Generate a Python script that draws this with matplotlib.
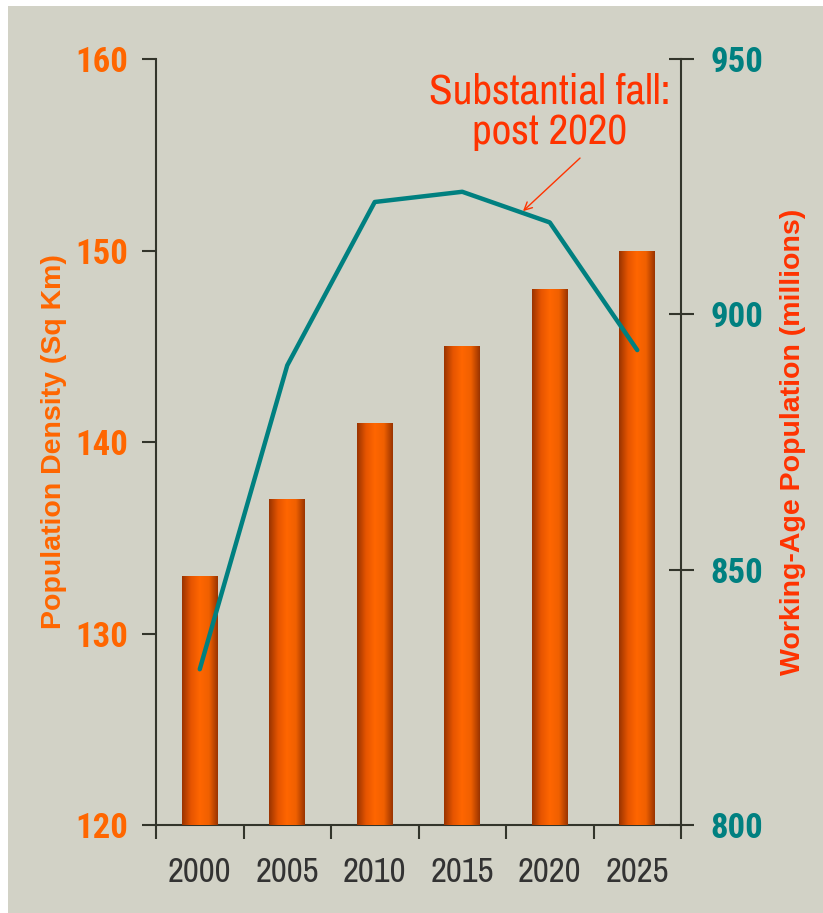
import numpy as np
import matplotlib
matplotlib.use("Agg")
from matplotlib import pyplot as plt
from matplotlib.colors import LinearSegmentedColormap

years = ['2000', '2005', '2010', '2015', '2020', '2025']
density = [133, 137, 141, 145, 148, 150]                 # people per sq km (bars)
working_age = [830.5, 890, 922, 924, 918, 893]            # millions (line)

plain = ['Archivo Narrow', 'Liberation Sans', 'DejaVu Sans']
ticks_bold = ['Roboto Condensed', 'Liberation Sans', 'DejaVu Sans']
titles = ['Liberation Sans', 'DejaVu Sans']
plt.rcParams['font.family'] = plain

bg = '#d2d2c6'
orange = '#ff6600'
red = '#ff3300'
teal = '#008080'
dark = '#33352b'

fig = plt.figure(figsize=(8.23, 9.13), dpi=100, facecolor='white')
# gray panel, white strip left and top
fig.patches.append(plt.Rectangle((8 / 823, 0), 1, 1 - 6 / 913, transform=fig.transFigure,
                                 facecolor=bg, edgecolor='none', zorder=-5))

ax = fig.add_axes([156 / 823, 1 - 825 / 913, 525 / 823, 766 / 913])
ax.set_facecolor('none')
x = np.arange(len(years))
bars = ax.bar(x, density, width=0.41, color=orange, edgecolor='none', zorder=2)
ax.set_xlim(-0.5, len(years) - 0.5)
ax.set_ylim(120, 160)

# horizontal shading on each bar
cmap = LinearSegmentedColormap.from_list('barshade', ['#993300', '#e65500', '#ff6600', '#f06000', '#993300'])
grad = np.linspace(0, 1, 256).reshape(1, -1)
for b in bars:
    im = ax.imshow(grad, cmap=cmap, aspect='auto', zorder=3,
                   extent=[b.get_x(), b.get_x() + b.get_width(), 120, b.get_height()])
    im.set_clip_path(b)

for s in ['top', 'right']:
    ax.spines[s].set_visible(False)
for s in ['left', 'bottom']:
    ax.spines[s].set_color(dark)
    ax.spines[s].set_linewidth(1.5)

ax.set_yticks([120, 130, 140, 150, 160])
ax.tick_params(axis='y', colors=dark, length=10, width=1.5, labelsize=25, labelcolor=orange, pad=10)
for t in ax.get_yticklabels():
    t.set_family(ticks_bold)
    t.set_fontweight('bold')
ax.set_xticks(np.arange(-0.5, len(years), 1.0))
ax.set_xticklabels([])
ax.set_xticks(x, minor=True)
ax.set_xticklabels(years, minor=True)
ax.tick_params(axis='x', which='major', colors=dark, length=10, width=1.5)
ax.tick_params(axis='x', which='minor', length=0, labelsize=25, labelcolor='#333333', pad=22)
ax.set_ylabel('Population Density (Sq Km)', color=orange, fontsize=20.5, fontweight='bold', family=titles)
ax.yaxis.set_label_coords(-0.1695, 0.5)

ax2 = ax.twinx()
ax2.plot(x, working_age, color=teal, linewidth=3.2, zorder=4, solid_capstyle='round')
ax2.set_ylim(800, 950)
ax2.set_yticks([800, 850, 900, 950])
for s in ['top', 'left', 'bottom']:
    ax2.spines[s].set_visible(False)
ax2.spines['right'].set_color(dark)
ax2.spines['right'].set_linewidth(1.5)
ax2.tick_params(axis='y', direction='inout', colors=dark, length=18, width=1.5,
                labelsize=25, labelcolor=teal, pad=12)
for t in ax2.get_yticklabels():
    t.set_family(ticks_bold)
    t.set_fontweight('bold')
ax2.set_ylabel('Working-Age Population (millions)', color=red, fontsize=20.5, fontweight='bold', family=titles)
ax2.yaxis.set_label_coords(1.189, 0.5)

# note on the decline after 2020
ax2.text(4.0, 939.6, 'Substantial fall:\npost 2020', ha='center', va='center', color=red,
         fontsize=31, linespacing=1.08)
ax2.annotate('', xy=(3.694, 920.2), xytext=(4.346, 930.6),
             arrowprops=dict(arrowstyle='->', color=red, lw=1, shrinkA=0, shrinkB=0, mutation_scale=14))

fig.savefig('out.png', dpi=100, facecolor='white')
